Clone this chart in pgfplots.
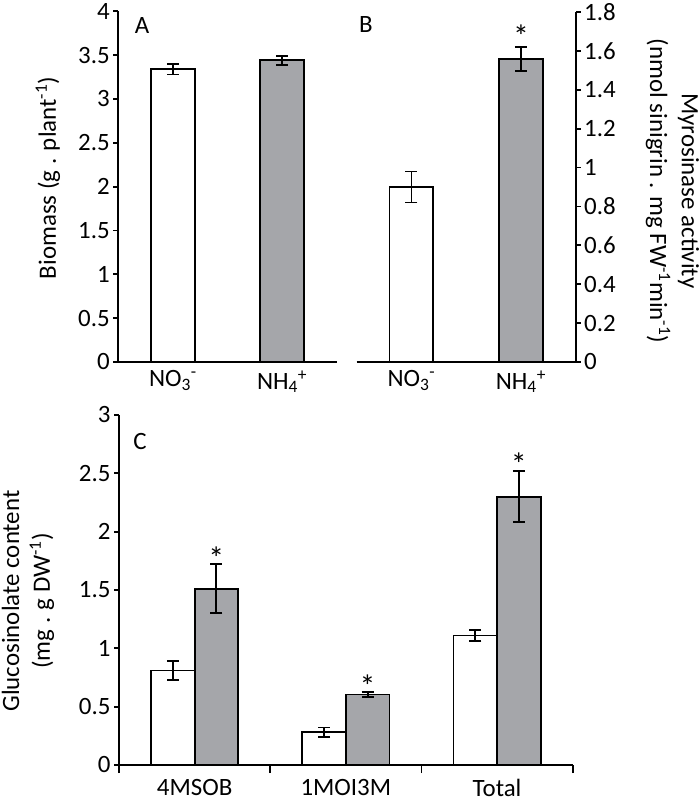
\documentclass[border=0pt]{standalone}
\usepackage{fontspec}
\setmainfont{Carlito}
\usepackage{pgfplots}
\pgfplotsset{compat=1.18}
\definecolor{bargray}{RGB}{165,166,170}
\newcommand{\bigf}{\fontsize{25}{30}\selectfont}
\newcommand{\starf}{\fontsize{32}{36}\selectfont}
\pgfplotsset{
  panel/.style={
    scale only axis,
    axis line style={line width=1.8bp,black},
    every tick/.style={black,line width=1.8bp},
    major tick length=5bp,
    minor tick length=8bp,
    tick align=outside,
    ymin=0,
    ticklabel style={font=\bigf},
    /pgf/number format/assume math mode=true,
    enlargelimits=false,
    clip=false,
    axis x line*=bottom,
    ybar,
  },
  barwhite/.style={fill=white, draw=black, line width=1.8bp,
    error bars/.cd, y dir=both, y explicit,
    error bar style={line width=1.8bp,black},
    error mark=-,
    error mark options={rotate=90, mark size=6bp, line width=1.8bp, black},
    /pgfplots/.cd},
  bargrey/.style={fill=bargray, draw=black, line width=1.8bp,
    error bars/.cd, y dir=both, y explicit,
    error bar style={line width=1.8bp,black},
    error mark=-,
    error mark options={rotate=90, mark size=6bp, line width=1.8bp, black},
    /pgfplots/.cd},
}
\begin{document}
\begin{tikzpicture}
\useasboundingbox (0bp,0bp) rectangle (700bp,808bp);

% ---- Panel A ----
\begin{axis}[panel, at={(118.3bp,446bp)}, anchor=south west,
  width=218.4bp, height=350.7bp,
  xmin=-0.5, xmax=1.5, ymax=4,
  axis y line*=left,
  ytick={0,0.5,1,1.5,2,2.5,3,3.5,4},
  xtick={0,1},
  xticklabels={NO\textsubscript{3}\textsuperscript{-}, NH\textsubscript{4}\textsuperscript{+}},
  major x tick style={draw=none},
  bar width=0.4]
\addplot[bar shift=0pt, barwhite] coordinates {(0,3.34) +- (0,0.06)};
\addplot[bar shift=0pt, bargrey] coordinates {(1,3.44) +- (0,0.05)};
\end{axis}

% ---- Panel B ----
\begin{axis}[panel, at={(356.7bp,446bp)}, anchor=south west,
  width=219bp, height=350bp,
  xmin=-0.5, xmax=1.5, ymax=1.8,
  axis y line*=right,
  ytick={0,0.2,0.4,0.6,0.8,1,1.2,1.4,1.6,1.8},
  xtick={0,1},
  xticklabels={NO\textsubscript{3}\textsuperscript{-}, NH\textsubscript{4}\textsuperscript{+}},
  major x tick style={draw=none},
  bar width=0.4]
\addplot[bar shift=0pt, barwhite] coordinates {(0,0.90) +- (0,0.08)};
\addplot[bar shift=0pt, bargrey] coordinates {(1,1.56) +- (0,0.062)};
\node[font=\starf, yshift=-6bp] at (axis cs:1,1.706) {*};
\end{axis}

% ---- Panel C ----
\begin{axis}[panel, at={(119bp,43bp)}, anchor=south west,
  width=453.7bp, height=350bp,
  xmin=-0.5, xmax=2.5, ymax=3,
  axis y line*=left,
  ytick={0,0.5,1,1.5,2,2.5,3},
  xtick={0,1,2},
  xticklabels={4MSOB,1MOI3M,Total},
  minor xtick={-0.5,0.5,1.5,2.5},
  major x tick style={draw=none},
  xticklabel style={yshift=-6bp},
  bar width=0.288]
\addplot[bar shift=-0.144, barwhite] coordinates {(0,0.81) +- (0,0.08) (1,0.28) +- (0,0.042) (2,1.11) +- (0,0.045)};
\addplot[bar shift=0.144, bargrey] coordinates {(0,1.51) +- (0,0.21) (1,0.605) +- (0,0.02) (2,2.30) +- (0,0.22)};
\node[font=\starf, yshift=-6bp] at (axis cs:0.144,1.82) {*};
\node[font=\starf, yshift=-6bp] at (axis cs:1.144,0.73) {*};
\node[font=\starf, yshift=-6bp] at (axis cs:2.144,2.63) {*};
\end{axis}

% ---- labels ----
\node[font=\bigf, rotate=90] at (48bp,630bp) {Biomass (g . plant\textsuperscript{-1})};
\node[font=\fontsize{25}{32}\selectfont, rotate=-90, align=center] at (672.5bp,617bp)
  {Myrosinase activity\\(nmol sinigrin . mg FW\textsuperscript{-1}min\textsuperscript{-1})};
\node[font=\fontsize{25}{31}\selectfont, rotate=90, align=center] at (28bp,207bp)
  {Glucosinolate content\\(mg . g DW\textsuperscript{-1})};
\node[font=\bigf] at (142bp,782bp) {A};
\node[font=\bigf] at (366bp,783bp) {B};
\node[font=\bigf] at (140bp,366bp) {C};
\end{tikzpicture}
\end{document}
